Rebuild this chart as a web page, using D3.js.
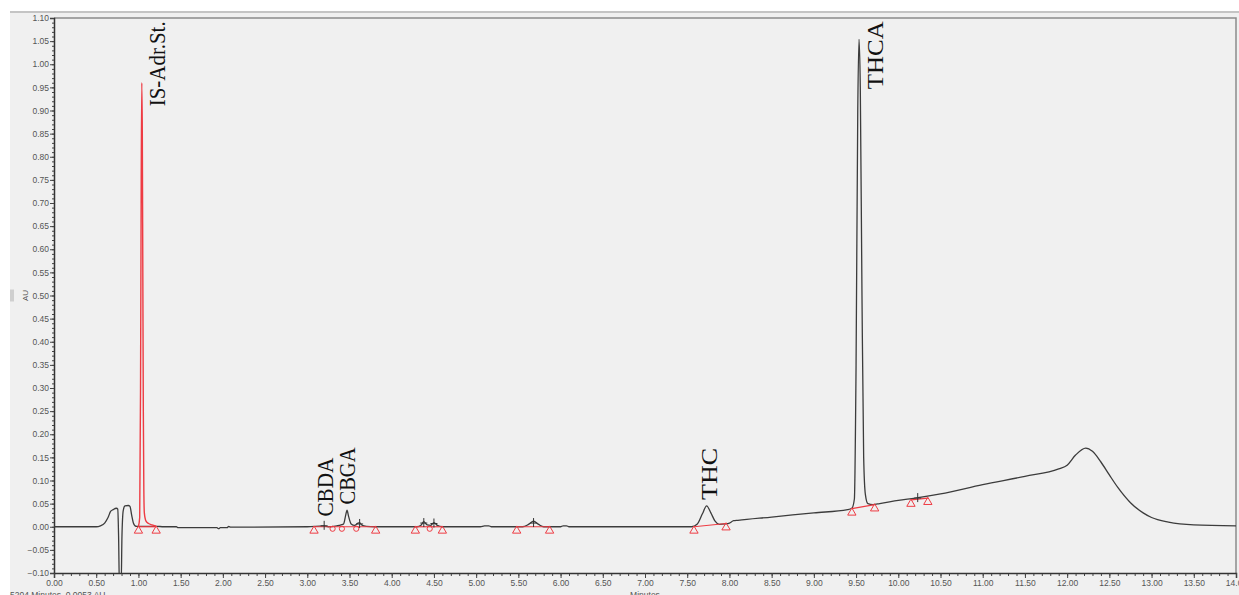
<!DOCTYPE html>
<html>
<head>
<meta charset="utf-8">
<script src="https://cdn.jsdelivr.net/npm/d3@7"></script>
<style>
  body { margin: 0; background: #fff; }
  svg { display: block; }
  .tick text { font-family: "Liberation Sans", Arial, sans-serif; font-size: 8.5px; fill: #555; }
  .peak-label { font-family: "Liberation Serif", "Times New Roman", serif; fill: #111; }
</style>
</head>
<body>
<div id="chart"></div>
<script>
// chromatogram trace: retention time (min) and absorbance (AU)
const traceTime = [
  0.00, 0.50, 0.55, 0.60, 0.64, 0.67, 0.70, 0.74, 0.755, 0.765, 0.775, 0.795, 0.805, 0.82, 0.84, 0.88, 0.90, 0.92, 0.94, 0.96, 0.98,
  1.00, 1.015, 1.025, 1.033, 1.040, 1.046, 1.052, 1.058, 1.064, 1.07, 1.09, 1.12, 1.16, 1.21,
  1.30, 1.45, 1.47, 1.93, 1.95, 1.97, 2.05, 2.07, 2.09, 3.00, 3.20, 3.25, 3.35, 3.40, 3.43, 3.455, 3.47, 3.49, 3.52, 3.56, 3.60, 3.62, 3.65, 3.70, 3.80,
  4.30, 4.35, 4.38, 4.42, 4.46, 4.50, 4.54, 4.60, 5.05, 5.10, 5.15, 5.18, 5.55, 5.62, 5.68, 5.74, 5.80, 6.00, 6.03, 6.07, 6.10,
  7.55, 7.62, 7.68, 7.73, 7.78, 7.83, 7.88, 7.95, 8.00, 8.05, 8.10, 8.50, 9.00, 9.40, 9.45, 9.48, 9.50, 9.52, 9.535, 9.55, 9.57, 9.59, 9.61, 9.64,
  9.70, 9.78, 10.00, 10.20, 10.50, 11.00, 11.50, 11.90, 12.00, 12.10, 12.22, 12.30, 12.40, 12.50, 12.60, 12.75, 12.90, 13.00, 13.20, 13.50, 14.00
];
const traceAU = [
  0.000, 0.000, 0.002, 0.008, 0.020, 0.033, 0.037, 0.040, 0.038, -0.020, -0.130, -0.130, -0.020, 0.035, 0.045, 0.046, 0.044, 0.025, 0.008, 0.002, 0.001,
  0.001, 0.020, 0.300, 0.750, 0.960, 0.850, 0.550, 0.250, 0.080, 0.030, 0.012, 0.007, 0.004, 0.001,
  0.000, 0.000, -0.002, -0.002, -0.004, -0.002, -0.002, 0.001, -0.001, 0.000, 0.002, 0.000, 0.002, 0.004, 0.006, 0.025, 0.036, 0.022, 0.006, 0.003, 0.008, 0.009, 0.003, 0.001, 0.000,
  0.000, 0.004, 0.011, 0.004, 0.003, 0.009, 0.003, 0.000, 0.000, 0.002, 0.002, 0.000, 0.000, 0.005, 0.012, 0.005, 0.000, 0.000, 0.002, 0.002, 0.000,
  0.000, 0.006, 0.028, 0.045, 0.030, 0.012, 0.005, 0.006, 0.008, 0.013, 0.014, 0.021, 0.030, 0.037, 0.040, 0.060, 0.350, 0.900, 1.054, 0.950, 0.500, 0.150, 0.070, 0.050,
  0.048, 0.050, 0.057, 0.062, 0.071, 0.091, 0.109, 0.125, 0.133, 0.155, 0.170, 0.163, 0.140, 0.112, 0.085, 0.052, 0.030, 0.020, 0.010, 0.004, 0.002
];

// internal standard peak is drawn in red
const redPeakStart = 1.00;
const redPeakEnd = 1.21;

// integration baselines [start time, start AU, end time, end AU]
const baselines = [
  [1.00, 0.000, 1.21, 0.000],
  [3.08, 0.000, 3.81, 0.000],
  [4.28, 0.000, 4.60, 0.000],
  [5.48, 0.000, 5.87, 0.000],
  [7.58, 0.000, 7.96, 0.007],
  [9.45, 0.039, 9.72, 0.048],
  [10.15, 0.058, 10.35, 0.062]
];
// split-peak markers (red circles) and apex markers (+)
const splitTimes = [3.30, 3.41, 3.58, 4.45];
const splitAU = [0.000, 0.000, 0.000, 0.000];
const apexTimes = [3.20, 3.62, 4.38, 4.50, 5.68, 10.23];
const apexAU = [0.002, 0.006, 0.008, 0.007, 0.008, 0.062];

// peak names, anchored at (time, AU) of the lower end of the vertical text
const peakNames = ["IS-Adr.St.", "CBDA", "CBGA", "THC", "THCA"];
const peakNameTime = [1.31, 3.30, 3.57, 7.85, 9.82];
const peakNameAU = [0.909, 0.022, 0.048, 0.058, 0.946];
const peakNameLength = [85, 59, 57, 52, 68];

const yTicks = d3.range(-10, 111, 5).map(d => d / 100);
const xTicks = d3.range(0, 29).map(d => d / 2);

const W = 1239, H = 595;
const margin = { top: 18, right: 3, bottom: 22, left: 54 };

const svg = d3.select("#chart").append("svg")
  .attr("width", W)
  .attr("height", H);

// panel background
svg.append("rect").attr("x", 10).attr("y", 12).attr("width", W - 10).attr("height", H - 12).attr("fill", "#f0f0f0");
svg.append("line").attr("x1", 10).attr("x2", W).attr("y1", 12).attr("y2", 12)
  .attr("stroke", "#c4c4c4").attr("stroke-width", 2);

const x = d3.scaleLinear().domain([0, 14]).range([margin.left, W - margin.right]);
const y = d3.scaleLinear().domain([-0.10, 1.10]).range([H - margin.bottom, margin.top]);

svg.append("defs").append("clipPath").attr("id", "plot")
  .append("rect")
  .attr("x", x(0)).attr("y", y(1.10))
  .attr("width", x(14) - x(0)).attr("height", y(-0.10) - y(1.10));

// frame top / right
svg.append("path")
  .attr("d", `M${x(0)},${y(1.10)}H${x(14)}V${y(-0.10)}`)
  .attr("fill", "none").attr("stroke", "#8a8a8a").attr("stroke-width", 1.5);

// minor ticks
svg.append("g")
  .attr("transform", `translate(${x(0)},0)`)
  .call(d3.axisLeft(y).tickValues(d3.range(-10, 111, 1).map(d => d / 100)).tickSize(2).tickFormat(""))
  .call(g => g.select(".domain").remove())
  .selectAll("line").attr("stroke", "#444");
svg.append("g")
  .attr("transform", `translate(0,${y(-0.10)})`)
  .call(d3.axisBottom(x).tickValues(d3.range(0, 141).map(d => d / 10)).tickSize(3).tickFormat(""))
  .call(g => g.select(".domain").remove())
  .selectAll("line").attr("stroke", "#444");

// major axes
const yAxis = svg.append("g")
  .attr("transform", `translate(${x(0)},0)`)
  .call(d3.axisLeft(y).tickValues(yTicks).tickSize(4).tickPadding(1).tickFormat(d3.format(".2f")));
const xAxis = svg.append("g")
  .attr("transform", `translate(0,${y(-0.10)})`)
  .call(d3.axisBottom(x).tickValues(xTicks).tickSize(5).tickPadding(2).tickFormat(d3.format(".2f")));
[yAxis, xAxis].forEach(a => {
  a.select(".domain").attr("stroke", "#333").attr("stroke-width", 1.5);
  a.selectAll(".tick line").attr("stroke", "#444");
  a.attr("font-family", null).attr("font-size", null);
});

// trace
const trace = traceTime.map((t, i) => ({ t: t, v: traceAU[i] }));
const line = d3.line().x(d => x(d.t)).y(d => y(d.v)).curve(d3.curveMonotoneX);

const plot = svg.append("g").attr("clip-path", "url(#plot)");

plot.append("path")
  .datum(trace.filter(d => d.t <= redPeakStart || d.t >= redPeakEnd))
  .attr("fill", "none")
  .attr("stroke", "#3c3c3c")
  .attr("stroke-width", 1.3)
  .attr("d", line);

plot.append("path")
  .datum(trace.filter(d => d.t >= redPeakStart && d.t <= redPeakEnd))
  .attr("fill", "none")
  .attr("stroke", "#ee3b43")
  .attr("stroke-width", 1.4)
  .attr("d", line);

// integration baselines
plot.selectAll(".base")
  .data(baselines)
  .enter().append("line")
  .attr("x1", d => x(d[0])).attr("y1", d => y(d[1]))
  .attr("x2", d => x(d[2])).attr("y2", d => y(d[3]))
  .attr("stroke", "#ee3b43").attr("stroke-width", 1.2);

const ends = [];
baselines.forEach(b => { ends.push([b[0], b[1]]); ends.push([b[2], b[3]]); });
plot.selectAll(".tri")
  .data(ends)
  .enter().append("path")
  .attr("transform", d => `translate(${x(d[0])},${y(d[1]) + 4})`)
  .attr("d", d3.symbol(d3.symbolTriangle, 30))
  .attr("fill", "none")
  .attr("stroke", "#ee3b43")
  .attr("stroke-width", 1);

plot.selectAll(".split")
  .data(splitTimes)
  .enter().append("circle")
  .attr("cx", d => x(d))
  .attr("cy", (d, i) => y(splitAU[i]) + 2)
  .attr("r", 2.6)
  .attr("fill", "none")
  .attr("stroke", "#ee3b43")
  .attr("stroke-width", 1);

plot.selectAll(".apex")
  .data(apexTimes)
  .enter().append("path")
  .attr("d", (d, i) => {
    const cx = x(d), cy = y(apexAU[i]);
    return `M${cx - 3.5},${cy}H${cx + 3.5}M${cx},${cy - 5}V${cy + 4}`;
  })
  .attr("stroke", "#333")
  .attr("stroke-width", 1);

// peak names
svg.selectAll(".peak-label")
  .data(peakNames)
  .enter().append("text")
  .attr("class", "peak-label")
  .attr("transform", (d, i) => `translate(${x(peakNameTime[i])},${y(peakNameAU[i])}) rotate(-90)`)
  .attr("font-size", 23)
  .attr("textLength", (d, i) => peakNameLength[i])
  .attr("lengthAdjust", "spacingAndGlyphs")
  .text(d => d);

// axis titles and status line
svg.append("text")
  .attr("transform", `translate(28,${y(0.50)}) rotate(-90)`)
  .attr("text-anchor", "middle")
  .style("font-family", "Liberation Sans, Arial, sans-serif")
  .style("font-size", "8px")
  .style("fill", "#555")
  .text("AU");
svg.append("rect").attr("x", 10).attr("y", y(0.50) - 6).attr("width", 4).attr("height", 12).attr("fill", "#cfcfcf");

svg.append("text")
  .attr("x", (x(0) + x(14)) / 2)
  .attr("y", H + 3)
  .attr("text-anchor", "middle")
  .style("font-family", "Liberation Sans, Arial, sans-serif")
  .style("font-size", "8.5px")
  .style("fill", "#555")
  .text("Minutes");

svg.append("text")
  .attr("x", 10)
  .attr("y", H + 3)
  .style("font-family", "Liberation Sans, Arial, sans-serif")
  .style("font-size", "8.5px")
  .style("fill", "#555")
  .text("5204 Minutes, 0.0053 AU");
</script>
</body>
</html>
